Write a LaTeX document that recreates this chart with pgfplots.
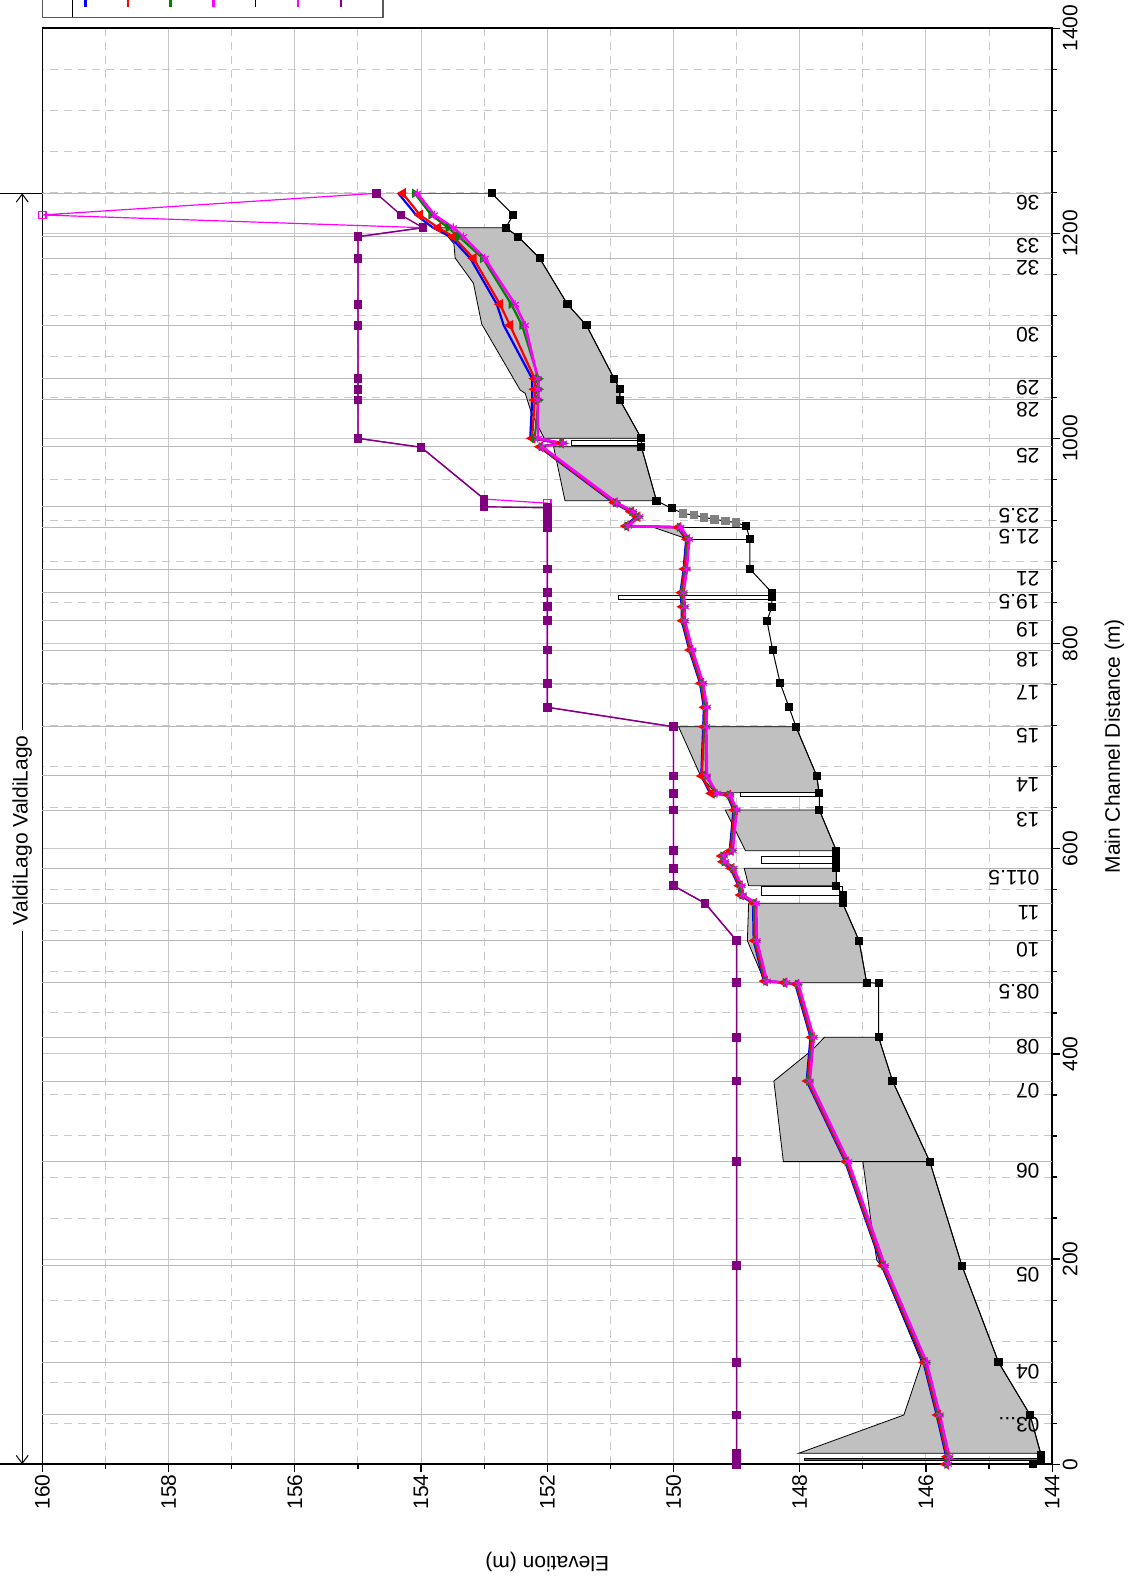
\documentclass[border=0pt]{standalone}
\usepackage{pgfplots}
\pgfplotsset{compat=1.18}
\usepackage{pgfplotstable}
\usepackage{fontspec}
\setmainfont{Liberation Sans}
\usetikzlibrary{arrows.meta}
\definecolor{silv}{RGB}{192,192,192}
\definecolor{dgreen}{RGB}{0,128,0}
\definecolor{purp}{RGB}{128,0,128}
\definecolor{magc}{RGB}{255,0,255}
\definecolor{bluec}{RGB}{0,0,255}
\definecolor{redc}{RGB}{255,0,0}
\definecolor{gridc}{RGB}{200,200,200}
\definecolor{secc}{RGB}{185,185,185}
\definecolor{sqgray}{RGB}{128,128,128}
\definecolor{bargray}{RGB}{100,100,100}
\definecolor{legframe}{RGB}{90,90,90}

% water surfaces: d, blue, red, green, magenta
\pgfplotstableread{
d b r g m
1239.1 154.36 154.29 154.10 154.06
1218 154.08 154.02 153.84 153.79
1205.6 153.81 153.73 153.57 153.49
1196.8 153.54 153.49 153.40 153.33
1175.7 153.22 153.17 153.02 152.99
1130.9 152.80 152.75 152.57 152.51
1110.4 152.69 152.59 152.40 152.35
1058.4 152.24 152.20 152.14 152.15
1048 152.24 152.20 152.14 152.15
1037.6 152.24 152.20 152.14 152.15
1000.2 152.27 152.24 152.20 152.15
995.5 151.80 151.785 151.765 151.75
992 152.13 152.115 152.095 152.08
937.5 150.95 150.935 150.915 150.90
928.7 150.69 150.675 150.655 150.64
923.8 150.59 150.575 150.555 150.54
914.7 150.77 150.755 150.735 150.72
913.5 149.94 149.925 149.905 149.89
901.8 149.80 149.785 149.765 149.75
872.8 149.84 149.825 149.805 149.79
849.7 149.89 149.875 149.855 149.84
836 149.87 149.855 149.835 149.82
822.4 149.87 149.855 149.835 149.82
793.8 149.75 149.735 149.715 149.70
761.4 149.58 149.565 149.545 149.53
738 149.52 149.505 149.485 149.47
719 149.53 149.515 149.495 149.48
671 149.56 149.55 149.485 149.47
654.1 149.42 149.40 149.325 149.31
652.5 149.15 149.135 149.115 149.10
637.8 149.05 149.035 149.015 149.00
598.2 149.11 149.095 149.075 149.06
593 149.25 149.235 149.215 149.20
587.4 149.23 149.215 149.195 149.18
581 149.10 149.085 149.065 149.05
564 148.97 148.955 148.935 148.92
555 148.95 148.935 148.915 148.90
546.9 148.74 148.725 148.705 148.69
510.4 148.73 148.715 148.695 148.68
471 148.57 148.555 148.535 148.52
469.5 148.26 148.245 148.225 148.21
468 148.07 148.055 148.035 148.02
416.2 147.83 147.815 147.795 147.78
373.6 147.89 147.875 147.855 147.84
295 147.28 147.265 147.245 147.23
193.5 146.70 146.685 146.665 146.65
99.3 146.04 146.025 146.005 145.99
48 145.83 145.815 145.795 145.78
7.3 145.68 145.665 145.645 145.63
0 145.70 145.685 145.665 145.65
}\ws

\pgfplotstableread{
d e
1239.1 152.88
1218 152.54
1205.6 152.66
1196.8 152.46
1175.7 152.12
1130.9 151.68
1110.4 151.38
1058.4 150.94
1048 150.85
1037.6 150.85
1000.2 150.51
992 150.51
939.4 150.27
932 150.03
927 149.85
925.4 149.68
923.2 149.52
921.2 149.35
919.6 149.18
918 149.01
914.7 148.85
901.8 148.79
872.8 148.79
849.7 148.44
846 148.44
836 148.44
822.4 148.52
793.8 148.43
761.4 148.31
738 148.17
719 148.06
671 147.73
654.1 147.69
637.8 147.69
598.2 147.42
592 147.42
586 147.42
581 147.42
564 147.42
555 147.32
546.9 147.32
510.4 147.06
469.5 146.94
468.9 146.75
416.2 146.75
373.6 146.53
295 145.94
193.5 145.43
99.3 144.85
48 144.35
9 144.18
4 144.18
0 144.30
}\ground

\pgfplotstableread{
d e
927 149.85
925.4 149.68
923.2 149.52
921.2 149.35
919.6 149.18
918 149.01
}\interp

\pgfplotstableread{
d e
1239.1 154.71
1218 154.32
1205.6 153.97
1196.8 155.0
1175.7 155.0
1130.9 155.0
1110.4 155.0
1058.4 155.0
1048 155.0
1037.6 155.0
1000.2 155.0
991.5 154.0
941 153.0
933.5 153.0
932.5 152.0
928 152.0
924 152.0
920 152.0
916 152.0
913 152.0
872.8 152.0
849.7 152.0
836 152.0
822.4 152.0
793.8 152.0
761.4 152.0
738 152.0
719 150.0
671 150.0
654.1 150.0
637.8 150.0
598.2 150.0
581 150.0
564 150.0
546.9 149.5
510.4 149.0
469.5 149.0
416.2 149.0
373.6 149.0
295 149.0
193.5 149.0
99.3 149.0
48 149.0
10.6 149.0
5 149.0
0 149.0
}\purple

\pgfplotstableread{
d e
1239.1 154.71
1218 160.0
1205.6 153.97
1196.8 155.0
1175.7 155.0
1130.9 155.0
1110.4 155.0
1058.4 155.0
1048 155.0
1037.6 155.0
1000.2 155.0
991.5 154.0
941 153.0
937 152.0
932.5 152.0
928 152.0
924 152.0
920 152.0
916 152.0
913 152.0
872.8 152.0
849.7 152.0
836 152.0
822.4 152.0
793.8 152.0
761.4 152.0
738 152.0
719 150.0
671 150.0
654.1 150.0
637.8 150.0
598.2 150.0
581 150.0
564 150.0
546.9 149.5
510.4 149.0
469.5 149.0
416.2 149.0
373.6 149.0
295 149.0
193.5 149.0
99.3 149.0
48 149.0
10.6 149.0
5 149.0
0 149.0
}\magsq

\newcommand{\secline}[1]{\draw[secc, line width=0.5pt] (axis cs:160,#1) -- (axis cs:144,#1);}
\newcommand{\seclab}[2]{\node[rotate=180, anchor=south west, inner sep=0.8pt] at (axis cs:144.17,#1) {#2};}

\begin{document}
\begin{tikzpicture}[font=\fontsize{10.5}{12.6}\selectfont]
\begin{axis}[
  scale only axis, width=504.9pt, height=717.95pt,
  x dir=reverse, xmin=144, xmax=160, ymin=0, ymax=1400,
  xtick={144,146,...,160}, ytick={0,200,...,1400},
  minor x tick num=1, minor y tick num=4,
  xtick pos=left, ytick pos=right,
  xticklabel pos=left, yticklabel pos=right,
  tick align=outside, major tick length=4pt, minor tick length=2.5pt,
  grid=both,
  major grid style={gridc, line width=0.5pt},
  minor grid style={gridc, line width=0.5pt, dash pattern=on 4pt off 3pt},
  axis line style={line width=0.8pt, black},
  every tick/.style={black, line width=0.6pt},
  /pgf/number format/assume math mode=true,
  /pgf/number format/1000 sep={},
  x tick label style={rotate=90, anchor=east, inner sep=1pt},
  y tick label style={rotate=90, anchor=north, inner sep=1pt},
  xlabel={Elevation (m)}, ylabel={Main Channel Distance (m)},
  every axis x label/.style={at={(axis description cs:0.5,-0.056)}, rotate=180, anchor=south},
  every axis y label/.style={at={(axis description cs:1.045,0.5)}, rotate=90, anchor=north},
  clip=false,
]
% section lines
\secline{1239.1}\secline{1196.8}\secline{1175.7}\secline{1110.4}\secline{1058.4}
\secline{1037.6}\secline{992}\secline{933.6}\secline{913.1}\secline{872.8}
\secline{849.7}\secline{822.4}\secline{793.8}\secline{761.4}\secline{719}
\secline{671}\secline{637.8}\secline{581}\secline{546.9}\secline{510.4}
\secline{469.5}\secline{416.2}\secline{373.6}\secline{295}\secline{193.5}
\secline{99.3}\secline{48}

% structures (gray)
\addplot[fill=silv, draw=black, line width=0.4pt] coordinates {(153.70,1205.6) (153.48,1190) (153.46,1176) (153.17,1151.4) (153.04,1111.7) (152.43,1047.3) (152.35,1044.1) (152.25,1024.6) (152.05,1000.2) (150.51,1000.2) (150.85,1037.6) (150.85,1048) (150.94,1058.4) (151.38,1110.4) (151.68,1130.9) (152.12,1175.7) (152.46,1196.8) (152.66,1205.6)} -- cycle;
\addplot[fill=silv, draw=black, line width=0.4pt] coordinates {(151.90,992) (151.72,939.4) (150.27,939.4) (150.51,992)} -- cycle;
\addplot[fill=white, draw=black, line width=0.4pt] coordinates {(151.62,993.7) (151.62,998) (150.58,998) (150.58,993.7)} -- cycle;
\addplot[fill=silv, draw=black, line width=0.4pt] coordinates {(150.32,913.5) (149.90,913.5) (149.77,901.8)} -- cycle;
\addplot[black, line width=0.4pt] coordinates {(149.90,913.5) (148.85,913.5)};
\addplot[black, line width=0.4pt] coordinates {(149.77,901.8) (148.79,901.8)};
\addplot[fill=white, draw=black, line width=0.4pt] coordinates {(150.87,843.3) (150.87,847.5) (148.44,847.5) (148.44,843.3)} -- cycle;
\addplot[fill=silv, draw=black, line width=0.4pt] coordinates {(149.92,719) (149.57,671) (149.34,654.7) (147.70,654.7) (147.73,671) (148.06,719)} -- cycle;
\addplot[fill=white, draw=black, line width=0.4pt] coordinates {(148.94,650.8) (148.94,654.7) (147.72,654.7) (147.72,650.8)} -- cycle;
\addplot[fill=silv, draw=black, line width=0.4pt] coordinates {(149.18,637.8) (148.86,598.2) (147.42,598.2) (147.69,637.8)} -- cycle;
\addplot[fill=white, draw=black, line width=0.4pt] coordinates {(148.60,585.9) (148.60,592.3) (147.42,592.3) (147.42,585.9)} -- cycle;
\addplot[fill=silv, draw=black, line width=0.4pt] coordinates {(148.88,581) (148.81,564) (147.42,564) (147.42,581)} -- cycle;
\addplot[fill=white, draw=black, line width=0.4pt] coordinates {(148.61,555) (148.61,563.7) (147.32,563.7) (147.32,555)} -- cycle;
\addplot[fill=silv, draw=black, line width=0.4pt] coordinates {(148.81,546.9) (148.83,510.4) (148.55,469.5) (146.94,469.5) (147.06,510.4) (147.32,546.9)} -- cycle;
\addplot[fill=silv, draw=black, line width=0.4pt] coordinates {(147.61,416.2) (147.80,404) (148.41,373.6) (148.26,295) (145.94,295) (146.53,373.6) (146.75,416.2)} -- cycle;
\addplot[fill=silv, draw=black, line width=0.4pt] coordinates {(147.0,295) (146.86,231.6) (146.78,199.1) (146.70,192.6) (146.07,99.3) (146.35,48) (148.02,10.6) (144.18,10.6) (144.35,48) (144.85,99.3) (145.43,193.5) (145.94,295)} -- cycle;
\addplot[fill=bargray, draw=black, line width=0.4pt] coordinates {(147.92,4.1) (147.92,5.7) (144.18,5.7) (144.18,4.1)} -- cycle;
\addplot[black!60, line width=0.6pt] coordinates {(154.06,1239.1) (152.88,1239.1)};

% water surface profiles
\addplot[bluec, line width=1.1pt] table[x=b, y=d] {\ws};
\addplot[redc, line width=1.1pt, mark=triangle*, mark size=2pt, mark options={rotate=90, solid}] table[x=r, y=d] {\ws};
\addplot[dgreen, line width=1.1pt, mark=triangle*, mark size=1.6pt, mark options={rotate=-90, solid}] table[x=g, y=d] {\ws};
\addplot[magc, line width=1.3pt, mark=asterisk, mark size=2.2pt, mark options={line width=0.6pt}] table[x=m, y=d] {\ws};
% ground
\addplot[black, line width=0.5pt, mark=square*, mark size=1.8pt] table[x=e, y=d] {\ground};
\addplot[only marks, sqgray, mark=square*, mark size=1.9pt] table[x=e, y=d] {\interp};
% levee-type lines
\addplot[magc, line width=0.6pt, mark=square, mark size=1.8pt] table[x=e, y=d] {\magsq};
\addplot[purp, line width=0.7pt, mark=square*, mark size=1.8pt] table[x=e, y=d] {\purple};

% section labels
\seclab{1239.1}{36}\seclab{1196.8}{33}\seclab{1175.7}{32}\seclab{1110.4}{30}
\seclab{1058.4}{29}\seclab{1037.6}{28}\seclab{992}{25}\seclab{933.6}{23.5}
\seclab{913.1}{21.5}\seclab{872.8}{21}\seclab{849.7}{19.5}\seclab{822.4}{19}
\seclab{793.8}{18}\seclab{761.4}{17}\seclab{719}{15}\seclab{671}{14}
\seclab{637.8}{13}\seclab{581}{011.5}\seclab{546.9}{11}\seclab{510.4}{10}
\seclab{469.5}{08.5}\seclab{416.2}{08}\seclab{373.6}{07}\seclab{295}{06}
\seclab{193.5}{05}\seclab{99.3}{04}\seclab{48}{03...}

% reach annotation
\draw[black, line width=0.5pt] (axis cs:160.672,1239.1) -- (axis cs:160,1239.1);
\draw[black, line width=0.8pt] (axis cs:160.672,0) -- (axis cs:160,0);
\draw[black, line width=0.5pt, {Straight Barb[length=4pt,width=6pt]}-{Straight Barb[length=4pt,width=6pt]}] (axis cs:160.32,0) -- (axis cs:160.32,1239.1);
\node[rotate=90, fill=white, inner sep=3pt] at (axis cs:160.32,618) {ValdiLago ValdiLago};

% legend (cut off by the page edge)
\draw[legframe, line width=0.8pt, fill=white] (axis cs:160,1410.7) rectangle (axis cs:154.6,1470);
\draw[black, line width=0.5pt] (axis cs:159.526,1410.7) -- (axis cs:159.526,1470);
\draw[bluec, line width=1.2pt] (axis cs:159.32,1420.5) -- (axis cs:159.32,1440);
\draw[redc, line width=1.2pt] (axis cs:158.64,1420.5) -- (axis cs:158.64,1440);
\draw[dgreen, line width=1.2pt] (axis cs:157.97,1420.5) -- (axis cs:157.97,1440);
\draw[magc, line width=1.2pt] (axis cs:157.29,1420.5) -- (axis cs:157.29,1440);
\draw[black, line width=0.5pt] (axis cs:156.62,1420.5) -- (axis cs:156.62,1440);
\draw[magc, line width=0.7pt] (axis cs:155.95,1420.5) -- (axis cs:155.95,1440);
\draw[purp, line width=0.7pt] (axis cs:155.27,1420.5) -- (axis cs:155.27,1440);

\coordinate (BBsw) at (axis cs:160.672,-116.8);
\coordinate (BBne) at (axis cs:142.671,1427.6);
\end{axis}
\pgfresetboundingbox
\useasboundingbox (BBsw) rectangle (BBne);
\end{tikzpicture}
\end{document}
